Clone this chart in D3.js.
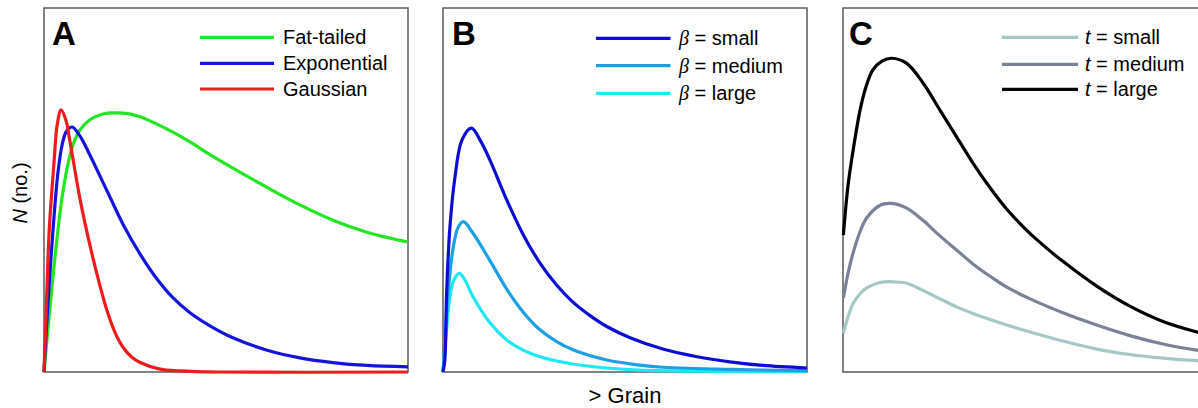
<!DOCTYPE html>
<html>
<head>
<meta charset="utf-8">
<script src="https://cdn.jsdelivr.net/npm/d3@7"></script>
<style>
  body { margin: 0; background: #fff; }
  svg { display: block; font-family: Arial, "Liberation Sans", sans-serif; }
</style>
</head>
<body>
<div id="js_chart"></div>
<script>
// curve values, [grain, count] on a 0-100 scale

// panel A
var fatTailed = [[0,0],[0.55,6],[1.1,12],[2.1,22.5],[3.9,39.6],[5.2,49.5],[6.6,57.2],[8,62.5],[9.9,66.5],
  [12.6,69.3],[16.2,70.9],[19.5,71.2],[23.1,71],[26.4,70.1],[31,68.1],[35.4,65.9],[40.1,63.2],[44.8,60.2],
  [51.9,56],[61.3,50.7],[70.3,45.9],[79.4,41.7],[88.7,38.4],[100,35.7]];
var exponential = [[0,0],[0.55,10],[1.5,25],[2.4,38],[3.8,54.5],[5,62.5],[6.1,66],[7.7,67.3],[9.9,64.8],
  [12.6,59.6],[17.3,49.8],[21.7,40.6],[26.4,32.4],[31,25.6],[35.4,20.4],[40.1,16.3],[45.6,12.7],[51.9,9.4],
  [61.3,6],[70.3,3.9],[79.4,2.6],[88.7,1.8],[100,1.4]];
var gaussian = [[0,0],[0.5,14],[0.75,21],[1.45,39.3],[2.75,57.5],[3.6,67.7],[4.7,72],[6,69.2],[7.1,63.5],
  [8,58.3],[9.9,47.5],[12.6,34.9],[15.4,23.6],[17.3,16.9],[19.5,10.9],[21.7,6.8],[24,4.2],[26.4,2.6],
  [31.9,0.8],[37.4,0.3],[48,0],[100,0]];

// panel B
var betaSmall = [[0,0],[0.5,3.3],[1,21.7],[1.9,39.8],[3.3,53.6],[5.2,63.7],[7.8,67],[10.2,63.7],[12.9,58.2],
  [17.5,47.3],[22,37.8],[26.6,30],[31.2,23.9],[35.7,19.2],[40.4,15.5],[45,12.5],[51.4,9.4],[60.4,6.3],
  [69.8,4.2],[78.8,2.8],[87.9,1.8],[100,1.1]];
var betaMedium = [[0,0],[0.5,8],[1.4,21.7],[2.7,33.5],[4.1,39.6],[5.6,41.3],[8.2,38.2],[12.9,30.6],[17.5,22.8],
  [22,16.5],[26.4,11.8],[31,8.5],[35.7,6.1],[45,3.3],[54,1.9],[60.4,1.3],[78.8,0.7],[100,0.4]];
var betaLarge = [[0,0],[0.8,9.6],[1.9,20.6],[3,25.3],[4.5,27.1],[6,25.3],[8.3,20.6],[12.9,13.5],[17.5,8.8],
  [22,6],[26.6,4.2],[35.7,2.2],[45,1.1],[54,0.5],[100,0.1]];

// panel C
var tSmall = [[0.1,10.7],[1.4,15.2],[2.8,18.9],[4.7,21.5],[6.5,23.1],[10.2,24.6],[13.4,24.8],[17.5,24.4],
  [21.8,22.5],[26.4,20.2],[31.2,17.9],[35.7,16.1],[40.4,14.4],[45,12.9],[51.4,11],[60.4,8.5],[69.7,6.3],
  [78.8,4.8],[87.9,3.8],[97.2,3.1],[100,2.9]];
var tMedium = [[0.1,20.3],[1.4,27.2],[2.8,32.8],[4.7,38.6],[6.5,42.3],[10.2,45.8],[13.4,46.3],[17.5,45],
  [21.8,41.8],[26.4,37.6],[31.2,33.5],[35.7,29.7],[40.4,26.3],[45,23.3],[51.4,20.1],[60.4,16.3],[69.7,12.9],
  [78.8,10],[87.9,7.7],[97.2,6],[100,5.6]];
var tLarge = [[0.1,37.6],[1.4,51.4],[2.8,61],[4.7,72],[6.3,78.3],[8.2,83],[10.7,85.4],[13.4,86.2],[17.5,84.8],
  [22,79.4],[26.6,72],[31.2,64.6],[35.7,57.4],[40.4,50.6],[45,44.7],[49.5,39.9],[54.1,35.6],[60.4,30.4],
  [69.7,23.6],[78.8,18.1],[87.9,13.9],[97.2,11],[100,10.3]];

var panelNames = ["A", "B", "C"];
var legendA = ["Fat-tailed", "Exponential", "Gaussian"];
var legendB = ["small", "medium", "large"];
var legendC = ["small", "medium", "large"];
var yLabel = "N";
var yLabelRest = " (no.)";
var xLabel = "> Grain";

//
// Drawing
//

var W = 1198, H = 408;
var pw = 364, ph = 364, top0 = 8;
var lefts = [44, 443, 843];

var svg = d3.select("#js_chart").append("svg")
  .attr("width", W)
  .attr("height", H);

var x = d3.scaleLinear().domain([0, 100]).range([0, pw]);
var y = d3.scaleLinear().domain([0, 100]).range([ph, 0]);

var line = d3.line()
  .x(function (d) { return x(d[0]); })
  .y(function (d) { return y(Math.max(0, d[1])); })
  .curve(d3.curveCatmullRom.alpha(0.5));

var panels = [
  { series: [fatTailed, exponential, gaussian], colors: ["#22e622", "#1414dc", "#ee1c1c"],
    labels: legendA, prefix: null, legX: [156, 230, 239], legY: [29.3, 55.3, 81], labelDx: 8 },
  { series: [betaSmall, betaMedium, betaLarge], colors: ["#0c0cd4", "#1ca0e4", "#1ee6f4"],
    labels: legendB, prefix: "\u03b2", legX: [153, 227.5, 236], legY: [30.3, 57.7, 85.3], labelDx: 9 },
  { series: [tSmall, tMedium, tLarge], colors: ["#a6c8c4", "#7a8298", "#000000"],
    labels: legendC, prefix: "t", legX: [159, 235, 242], legY: [29.3, 56.3, 81.3], labelDx: 6 }
];

panels.forEach(function (p, i) {
  var g = svg.append("g").attr("transform", "translate(" + lefts[i] + "," + top0 + ")");

  g.append("rect")
    .attr("width", pw)
    .attr("height", ph)
    .attr("fill", "#fff")
    .attr("stroke", "#5a5a5a")
    .attr("stroke-width", 1.5);

  // draw back to front
  var order = i === 0 ? [0, 1, 2] : [2, 1, 0];
  order.forEach(function (k) {
    g.append("path")
      .datum(p.series[k])
      .attr("d", line)
      .attr("fill", "none")
      .attr("stroke", p.colors[k])
      .attr("stroke-width", 3.2)
      .attr("stroke-linejoin", "round");
  });

  g.append("text")
    .attr("x", p.labelDx)
    .attr("y", 37)
    .attr("font-size", 33)
    .attr("font-weight", "bold")
    .text(panelNames[i]);

  p.labels.forEach(function (lab, k) {
    g.append("line")
      .attr("x1", p.legX[0])
      .attr("x2", p.legX[1])
      .attr("y1", p.legY[k])
      .attr("y2", p.legY[k])
      .attr("stroke", p.colors[k])
      .attr("stroke-width", 3.2);

    var t = g.append("text")
      .attr("x", p.legX[2])
      .attr("y", p.legY[k] + 7)
      .attr("font-size", 20);
    if (p.prefix) {
      t.append("tspan")
        .attr("font-style", "italic")
        .attr("font-family", p.prefix === "t" ? null : "'Liberation Serif', serif")
        .text(p.prefix);
      t.append("tspan").text(" = " + lab);
    } else {
      t.text(lab);
    }
  });
});

// axis titles
var yl = svg.append("text")
  .attr("transform", "translate(27,193) rotate(-90)")
  .attr("text-anchor", "middle")
  .attr("font-size", 20);
yl.append("tspan").attr("font-style", "italic").text(yLabel);
yl.append("tspan").text(yLabelRest);

svg.append("text")
  .attr("x", 625)
  .attr("y", 403)
  .attr("text-anchor", "middle")
  .attr("font-size", 22)
  .text(xLabel);
</script>
</body>
</html>
